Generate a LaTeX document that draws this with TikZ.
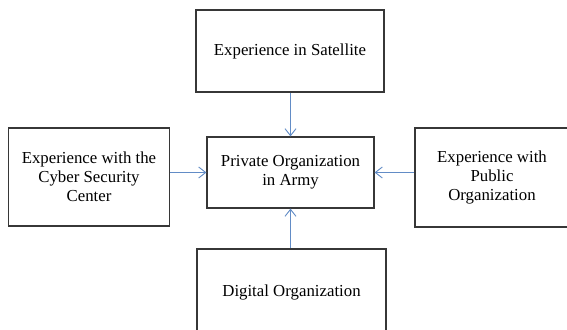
\documentclass[tikz,border=0pt]{standalone}
\usepackage{fontspec}
\setmainfont{Liberation Serif}
\usetikzlibrary{arrows.meta}
\definecolor{arrowblue}{RGB}{98,140,198}
\definecolor{boxgray}{RGB}{55,55,55}
\begin{document}
\begin{tikzpicture}[x=1pt,y=-1pt,
    box/.style={draw=boxgray,line width=1.2pt,align=center,inner sep=0pt,
      font=\fontsize{16.8}{19}\selectfont},
    arr/.style={draw=arrowblue,line width=0.9pt,
      -{Straight Barb[length=7pt,width=11pt]}}]
  \useasboundingbox (0,0) rectangle (567,329);
  % outer boxes around the center
  \node[box,minimum width=188pt,minimum height=82pt] (sat) at (290,51) {Experience in Satellite};
  \node[box,minimum width=167pt,minimum height=71pt] (army) at (290.5,172.5) {Private Organization\\in Army};
  \node[box,minimum width=161pt,minimum height=98pt] (cyber) at (89,177) {Experience with the\\Cyber Security\\Center};
  \node[box,minimum width=154pt,minimum height=99pt] (public) at (492,177.5) {Experience with\\Public\\Organization};
  \node[box,minimum width=189pt,minimum height=86pt] (digital) at (291.5,292) {\raisebox{3pt}{Digital Organization}};
  % arrows into the center
  \draw[arr] (sat.south -| army) -- (army.north);
  \draw[arr] (cyber.east |- army.west) -- (army.west);
  \draw[arr] (public.west |- army.east) -- (army.east);
  \draw[arr] (digital.north -| army) -- (army.south);
\end{tikzpicture}
\end{document}
